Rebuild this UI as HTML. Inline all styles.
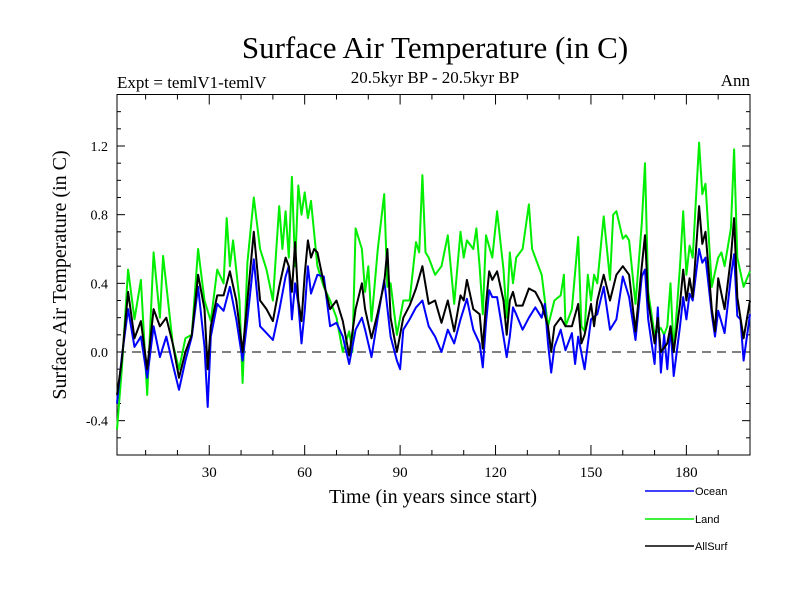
<!DOCTYPE html>
<html><head><meta charset="utf-8"><style>
html,body{margin:0;padding:0;background:#fff;}
svg{display:block;}
text{font-family:"Liberation Serif",serif;fill:#000;}
.sans{font-family:"Liberation Sans",sans-serif;}
</style></head><body>
<svg id="chart" width="800" height="600" viewBox="0 0 800 600">
<text x="435" y="58" font-size="31" text-anchor="middle">Surface Air Temperature (in C)</text>
<text x="117" y="88" font-size="17">Expt = temlV1-temlV</text>
<text x="435" y="83" font-size="17" text-anchor="middle">20.5kyr BP - 20.5kyr BP</text>
<text x="750" y="86" font-size="17" text-anchor="end">Ann</text>
<text transform="translate(66,275) rotate(-90)" font-size="20" text-anchor="middle">Surface Air Temperature (in C)</text>
<text x="433" y="503" font-size="20" text-anchor="middle">Time (in years since start)</text>
<g id="axes"></g>
<g id="series"></g>
<g>
<line x1="645" y1="491" x2="694" y2="491" stroke="#0000ff" stroke-width="1.5"/>
<text class="sans" x="695" y="495" font-size="11">Ocean</text>
<line x1="645" y1="519" x2="694" y2="519" stroke="#00ee00" stroke-width="1.5"/>
<text class="sans" x="695" y="523" font-size="11">Land</text>
<line x1="645" y1="546" x2="694" y2="546" stroke="#000" stroke-width="1.5"/>
<text class="sans" x="695" y="550" font-size="11">AllSurf</text>
</g>
</svg>
<script>
const xTicks = [30, 60, 90, 120, 150, 180];
const yTicks = [-0.4, 0.0, 0.4, 0.8, 1.2];
const yTickLabels = ["-0.4", "0.0", "0.4", "0.8", "1.2"];
const oceanData = [[1,-0.3],[2.5,-0.03],[4.5,0.25],[6.5,0.03],[8.5,0.09],[10.5,-0.15],[12.5,0.15],[14.5,-0.03],[16.5,0.09],[18.5,-0.07],[20.5,-0.22],[22.5,-0.05],[24.5,0.09],[26.5,0.38],[28.5,0.03],[29.5,-0.32],[30.5,0.09],[32.5,0.28],[34.5,0.24],[36.5,0.38],[38.5,0.19],[40.5,-0.05],[42,0.19],[44,0.54],[46,0.15],[48,0.11],[50,0.07],[52,0.24],[54,0.44],[55,0.5],[56,0.19],[57,0.4],[58,0.28],[59,0.05],[60,0.24],[61,0.5],[62,0.34],[64,0.45],[66,0.44],[68,0.15],[70,0.17],[72,0.09],[74,-0.07],[76,0.13],[78,0.2],[79,0.13],[81,-0.03],[83,0.2],[85,0.42],[87,0.09],[89,-0.05],[90,-0.1],[91,0.13],[93,0.19],[95,0.26],[97,0.3],[99,0.15],[101,0.09],[103,0.0],[105,0.13],[107,0.05],[109,0.19],[111,0.31],[113,0.13],[115,0.05],[116,-0.09],[117,0.17],[118,0.36],[119,0.32],[120.5,0.32],[122.5,0.09],[123.5,-0.03],[124.5,0.09],[125.5,0.26],[126.5,0.22],[128.5,0.13],[130.5,0.2],[132.5,0.26],[134.5,0.2],[135.5,0.28],[136.5,0.05],[137.5,-0.12],[138.5,0.03],[140.5,0.13],[142,0.01],[144,0.11],[145,-0.07],[146,0.09],[148,-0.1],[150,0.19],[152,0.22],[154,0.38],[156,0.13],[158,0.19],[160,0.44],[162,0.32],[164,0.07],[166,0.44],[167,0.48],[168,0.19],[170,-0.07],[171,0.26],[172,-0.12],[173,0.1],[174,-0.1],[175,0.15],[176,-0.14],[178,0.15],[179,0.32],[180,0.19],[181,0.34],[182,0.3],[184,0.6],[185,0.52],[186,0.55],[188,0.22],[189,0.09],[190,0.24],[192,0.11],[194,0.44],[195,0.57],[196,0.21],[197,0.19],[198,-0.05],[200,0.22]];
const landData = [[1,-0.45],[2.5,-0.1],[4.5,0.48],[6.5,0.19],[8.5,0.42],[10.5,-0.25],[12.5,0.58],[14.5,0.2],[15.5,0.56],[18.5,0.05],[20.5,-0.1],[22.5,0.08],[24.5,0.1],[26.5,0.6],[28.5,0.3],[30.5,0.18],[32.5,0.48],[34.5,0.4],[35.5,0.78],[36.5,0.5],[37.5,0.65],[39.5,0.3],[40.5,-0.18],[42,0.52],[44,0.9],[46,0.6],[48,0.48],[50,0.3],[52,0.85],[53,0.6],[54,0.82],[55,0.55],[56,1.02],[57,0.5],[58,0.97],[59,0.8],[60,0.93],[61,0.78],[62,0.88],[64,0.5],[66,0.38],[68,0.3],[70,0.2],[72,0.0],[74,0.12],[75,0.0],[76,0.72],[78,0.6],[79,0.35],[80,0.5],[81,0.18],[83,0.6],[85,0.92],[86,0.38],[87,0.4],[89,0.1],[91,0.3],[93,0.3],[95,0.64],[96,0.58],[97,1.03],[98,0.58],[99,0.55],[101,0.45],[103,0.5],[105,0.68],[107,0.28],[109,0.7],[110,0.55],[111,0.65],[113,0.6],[114,0.72],[115,0.5],[116,0.22],[117,0.68],[119,0.55],[120.5,0.82],[122.5,0.48],[123.5,0.2],[124.5,0.58],[125.5,0.4],[126.5,0.55],[128.5,0.6],[130.5,0.86],[131.5,0.6],[132.5,0.55],[134.5,0.45],[136.5,0.15],[138.5,0.3],[140.5,0.33],[141.5,0.45],[142,0.15],[144,0.25],[146,0.67],[147,0.15],[148,0.12],[149,0.45],[150,0.3],[151,0.45],[152,0.4],[154,0.79],[156,0.42],[157,0.8],[158,0.82],[160,0.66],[161,0.68],[162,0.65],[164,0.28],[166,0.75],[167,1.1],[168,0.35],[170,0.1],[172,0.14],[173,0.1],[174,0.15],[175,0.4],[176,0.0],[178,0.5],[179,0.82],[180,0.45],[181,0.62],[182,0.55],[184,1.22],[185,0.92],[186,0.98],[188,0.38],[190,0.55],[191,0.58],[192,0.5],[194,0.72],[195,1.18],[196,0.55],[198,0.38],[200,0.47]];
const allSurfData = [[1,-0.25],[2.5,-0.05],[4.5,0.35],[6.5,0.08],[8.5,0.18],[10.5,-0.1],[12.5,0.25],[14.5,0.15],[16.5,0.2],[18.5,0.05],[20.5,-0.15],[22.5,0.0],[24.5,0.1],[26.5,0.45],[28.5,0.25],[29.5,-0.1],[30.5,0.15],[32.5,0.33],[34.5,0.33],[36.5,0.47],[38.5,0.3],[40.5,0.0],[42,0.3],[44,0.7],[46,0.3],[48,0.25],[50,0.18],[52,0.38],[54,0.55],[55,0.5],[56,0.35],[57,0.64],[58,0.3],[59,0.18],[60,0.45],[61,0.65],[62,0.55],[63,0.6],[64,0.58],[66,0.4],[68,0.25],[70,0.3],[72,0.18],[74,-0.02],[76,0.25],[78,0.4],[79,0.25],[81,0.08],[83,0.23],[85,0.4],[86,0.6],[87,0.2],[89,0.0],[91,0.2],[93,0.27],[95,0.37],[97,0.5],[99,0.28],[101,0.3],[103,0.17],[105,0.3],[107,0.12],[109,0.33],[110,0.3],[111,0.42],[113,0.25],[115,0.22],[116,0.02],[117,0.28],[118,0.47],[119,0.42],[120.5,0.47],[122.5,0.3],[123.5,0.1],[124.5,0.3],[125.5,0.35],[126.5,0.27],[128.5,0.27],[130.5,0.37],[132.5,0.35],[134.5,0.28],[136.5,0.15],[137.5,0.0],[138.5,0.15],[140.5,0.2],[142,0.15],[144,0.15],[146,0.28],[147,0.05],[148,0.1],[150,0.28],[151,0.15],[152,0.3],[154,0.45],[156,0.3],[158,0.45],[160,0.5],[162,0.45],[164,0.12],[166,0.5],[167,0.68],[168,0.3],[170,0.05],[171,0.2],[172,0.0],[174,0.05],[175,0.15],[176,0.0],[178,0.28],[179,0.48],[180,0.3],[181,0.43],[182,0.32],[184,0.85],[185,0.63],[186,0.7],[188,0.25],[189,0.12],[190,0.43],[192,0.25],[194,0.55],[195,0.78],[196,0.32],[198,0.08],[200,0.3]];

const NS = "http://www.w3.org/2000/svg";
const L = 117, R = 750, T = 94.5, B = 455;
const xMin = 1, xMax = 200, yMin = -0.6, yMax = 1.5;
function xs(v){ return L + (v - xMin) / (xMax - xMin) * (R - L); }
function ys(v){ return B - (v - yMin) / (yMax - yMin) * (B - T); }
function mk(tag, attrs, parent){
  const e = document.createElementNS(NS, tag);
  for (const k in attrs) e.setAttribute(k, attrs[k]);
  parent.appendChild(e);
  return e;
}
const axes = document.getElementById("axes");
const frame = mk("rect", {x:L, y:T, width:R-L, height:B-T, fill:"none", stroke:"#000", "stroke-width":1}, axes);


const zl = mk("line", {x1:L, x2:R, y1:ys(0), y2:ys(0), stroke:"#000", "stroke-width":1, "stroke-dasharray":"9,6"}, axes);


// minor y ticks every 0.1
for (let i = -6; i <= 15; i++) {
  const v = i / 10, y = ys(v), major = (i % 4 === 0);
  const len = major ? 8 : 4;
  const t1 = mk("line", {x1:L, x2:L+len, y1:y, y2:y, stroke:"#000", "stroke-width":1}, axes);
  
  
  const t2 = mk("line", {x1:R-len, x2:R, y1:y, y2:y, stroke:"#000", "stroke-width":1}, axes);
  
  
}
yTicks.forEach((v, i) => {
  const t = mk("text", {x:L-9, y:ys(v)+5, "font-size":14, "text-anchor":"end"}, axes);
  t.textContent = yTickLabels[i];
  
  
});
for (let v = 10; v <= 200; v += 10) {
  const major = (v % 30 === 0);
  const len = major ? 10 : 5;
  const t = mk("line", {x1:xs(v), x2:xs(v), y1:B, y2:B-len, stroke:"#000", "stroke-width":1}, axes);
  
  
  const t2 = mk("line", {x1:xs(v), x2:xs(v), y1:T, y2:T+len, stroke:"#000", "stroke-width":1}, axes);
  
  
}
xTicks.forEach(v => {
  const t = mk("text", {x:xs(v), y:B+22, "font-size":15, "text-anchor":"middle"}, axes);
  t.textContent = String(v);
  
  
});
const series = document.getElementById("series");
function drawLine(data, color, name){
  const d = data.map((p, i) => (i ? "L" : "M") + xs(p[0]).toFixed(1) + "," + ys(p[1]).toFixed(1)).join(" ");
  const p = mk("path", {d:d, fill:"none", stroke:color, "stroke-width":2, "stroke-linejoin":"round"}, series);
  
  
}
drawLine(landData, "#00ee00", "land-line");
drawLine(oceanData, "#0000ff", "ocean-line");
drawLine(allSurfData, "#000000", "allsurf-line");
</script>
</body></html>
